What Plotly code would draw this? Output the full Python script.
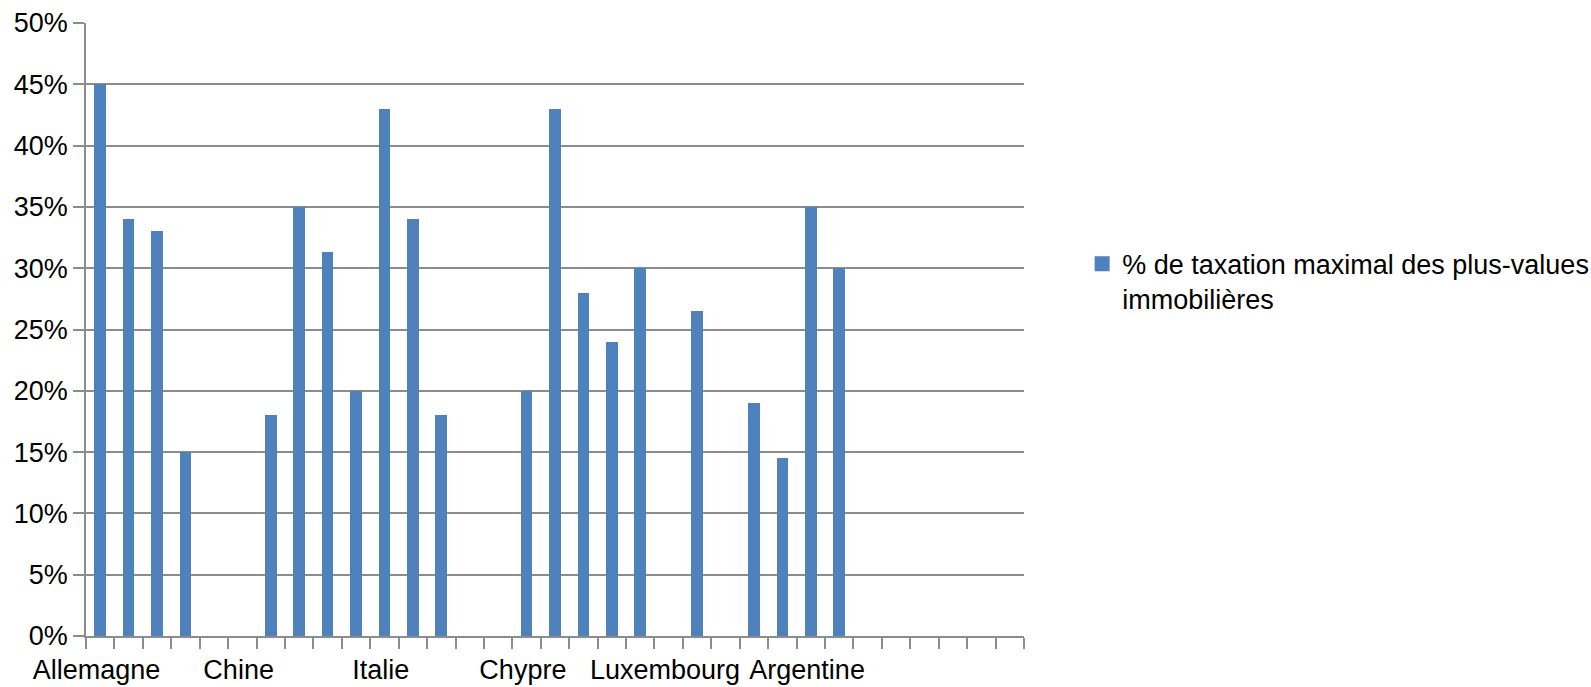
import plotly.graph_objects as go

# Category tick labels (only every fifth category is labelled in the reference)
tick_labels = [
    "Allemagne", "", "", "", "", "Chine", "", "", "", "", "Italie", "", "", "", "",
    "Chypre", "", "", "", "", "Luxembourg", "", "", "", "", "Argentine", "", "", "",
    "", "", "", "",
]
# % de taxation maximal des plus-values immobilières (None = no bar)
values = [
    0.45, 0.34, 0.33, 0.15, None, None, 0.18, 0.35, 0.313, 0.20, 0.43, 0.34, 0.18,
    None, None, 0.20, 0.43, 0.28, 0.24, 0.30, None, 0.265, None, 0.19, 0.145, 0.35,
    0.30, None, None, None, None, None, None,
]
series_name = "% de taxation maximal des plus-values<br>immobilières"

BLUE = "#4f81bd"
GREY = "#8c8c8c"
FONT = "Liberation Sans"
FS = 27
LABEL_SHIFT = -0.13  # labels sit slightly left of category centre in the reference

idx = list(range(len(tick_labels)))
tickvals = [i + LABEL_SHIFT for i, t in enumerate(tick_labels) if t]
ticktext = [t for t in tick_labels if t]

fig = go.Figure()
fig.add_trace(go.Bar(x=idx, y=values, marker=dict(color=BLUE, line=dict(width=0)),
                     width=0.41, showlegend=False, hoverinfo="y"))
# legend entry (square swatch)
fig.add_trace(go.Scatter(x=[None], y=[None], mode="markers", name=series_name,
                         marker=dict(symbol="square", size=15, color=BLUE)))

fig.update_layout(
    width=1591, height=687,
    paper_bgcolor="white", plot_bgcolor="white",
    margin=dict(l=86, r=567, t=23, b=51, autoexpand=False),
    font=dict(family=FONT, size=FS, color="black"),
    showlegend=True,
    legend=dict(x=1.062, xanchor="left", y=0.578, yanchor="middle", valign="top",
                font=dict(family=FONT, size=FS, color="black"),
                bgcolor="rgba(0,0,0,0)", borderwidth=0),
    bargap=0,
)
fig.update_xaxes(
    range=[-0.5, len(tick_labels) - 0.5],
    tickmode="array", tickvals=tickvals, ticktext=ticktext,
    ticks="outside", ticklen=0, tickcolor=GREY, ticklabelstandoff=9,
    showgrid=False, zeroline=False,
    showline=True, linecolor=GREY, linewidth=1.5,
    minor=dict(tick0=-0.5, dtick=1, ticks="outside", ticklen=11, tickcolor=GREY,
               tickwidth=1.5, showgrid=False),
    tickfont=dict(family=FONT, size=FS, color="black"),
)
fig.update_yaxes(
    range=[0, 0.5], dtick=0.05, tickformat=".0%",
    ticks="outside", ticklen=11, tickcolor=GREY, tickwidth=1.5, ticklabelstandoff=0,
    showgrid=True, gridcolor=GREY, gridwidth=1.5,
    zeroline=False, showline=True, linecolor=GREY, linewidth=1.5,
    tickfont=dict(family=FONT, size=FS, color="black"),
)

# remove the default 8px page margin so the 1591x687 figure fills the window exactly
fig.write_html("out.html", config={"displayModeBar": False},
               post_script="document.body.style.margin='0';document.body.style.overflow='hidden';")
